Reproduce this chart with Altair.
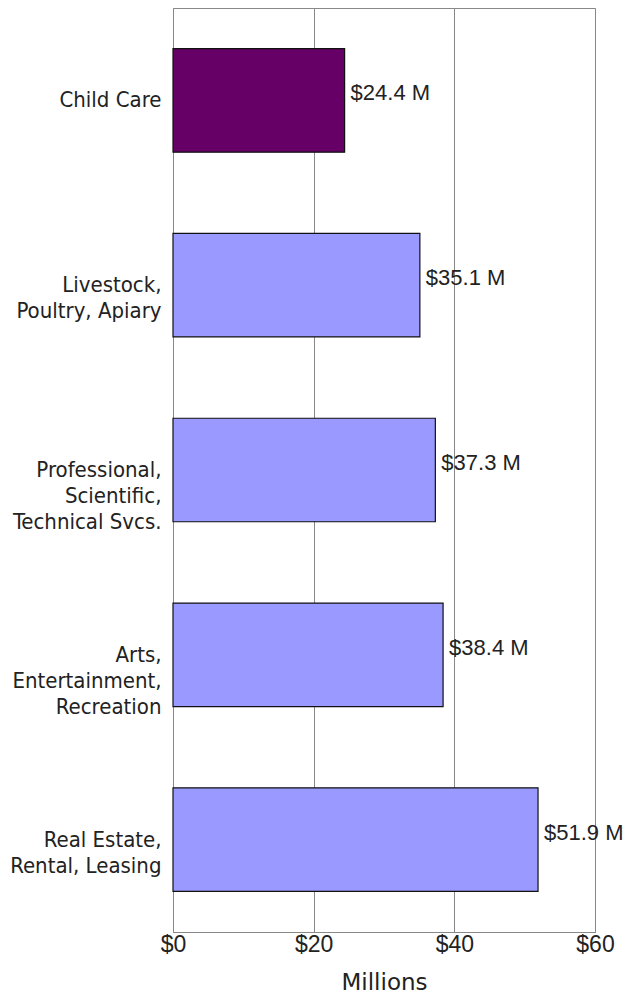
import altair as alt
import pandas as pd

categories = ["Child Care", "Livestock,|Poultry, Apiary", "Professional,|Scientific,|Technical Svcs.",
              "Arts,|Entertainment,|Recreation", "Real Estate,|Rental, Leasing"]
values = [24.4, 35.1, 37.3, 38.4, 51.9]
colors = ["#660066", "#9999ff", "#9999ff", "#9999ff", "#9999ff"]

df = pd.DataFrame({"cat": categories, "val": values, "col": colors})
df["lbl"] = ["$" + f"{v:.1f}" + " M" for v in values]

y = alt.Y("cat:N", sort=categories, title=None,
          scale=alt.Scale(paddingInner=0.44, paddingOuter=0.22),
          axis=alt.Axis(labelExpr="split(datum.label, '|')", labelFont="DejaVu Sans Condensed",
                        labelFontSize=22, labelColor="#222", labelLineHeight=26,
                        labelPadding=12, ticks=False, domain=True, domainColor="#888",
                        labelLimit=300))
x = alt.X("val:Q", title="Millions",
          scale=alt.Scale(domain=[0, 60]),
          axis=alt.Axis(values=[0, 20, 40, 60], labelExpr="'$' + datum.value",
                        labelFont="Liberation Sans", labelFontSize=23, labelColor="#222",
                        labelAlign="center", labelBaseline="top",
                        ticks=False, domainColor="#888", gridColor="#888", grid=True,
                        labelPadding=1, titleFont="DejaVu Sans", titleFontSize=23,
                        titleFontWeight="normal", titleColor="#222", titlePadding=15))

bars = alt.Chart(df).mark_bar(stroke="#111", strokeWidth=1.2).encode(
    x=x, y=y, color=alt.Color("col:N", scale=None))
text = alt.Chart(df).mark_text(align="left", baseline="middle", dx=6, dy=-7,
                               font="Liberation Sans", fontSize=22, color="#222").encode(
    x="val:Q", y=alt.Y("cat:N", sort=categories), text="lbl:N")

chart = (bars + text).properties(
    width=422, height=924,
    autosize=alt.AutoSizeParams(type="none"),
    padding={"left": 165, "top": 0, "right": 31, "bottom": 70},
).configure_view(stroke="#888")

chart.save("out.html", embed_options={"renderer": "svg", "actions": False})
